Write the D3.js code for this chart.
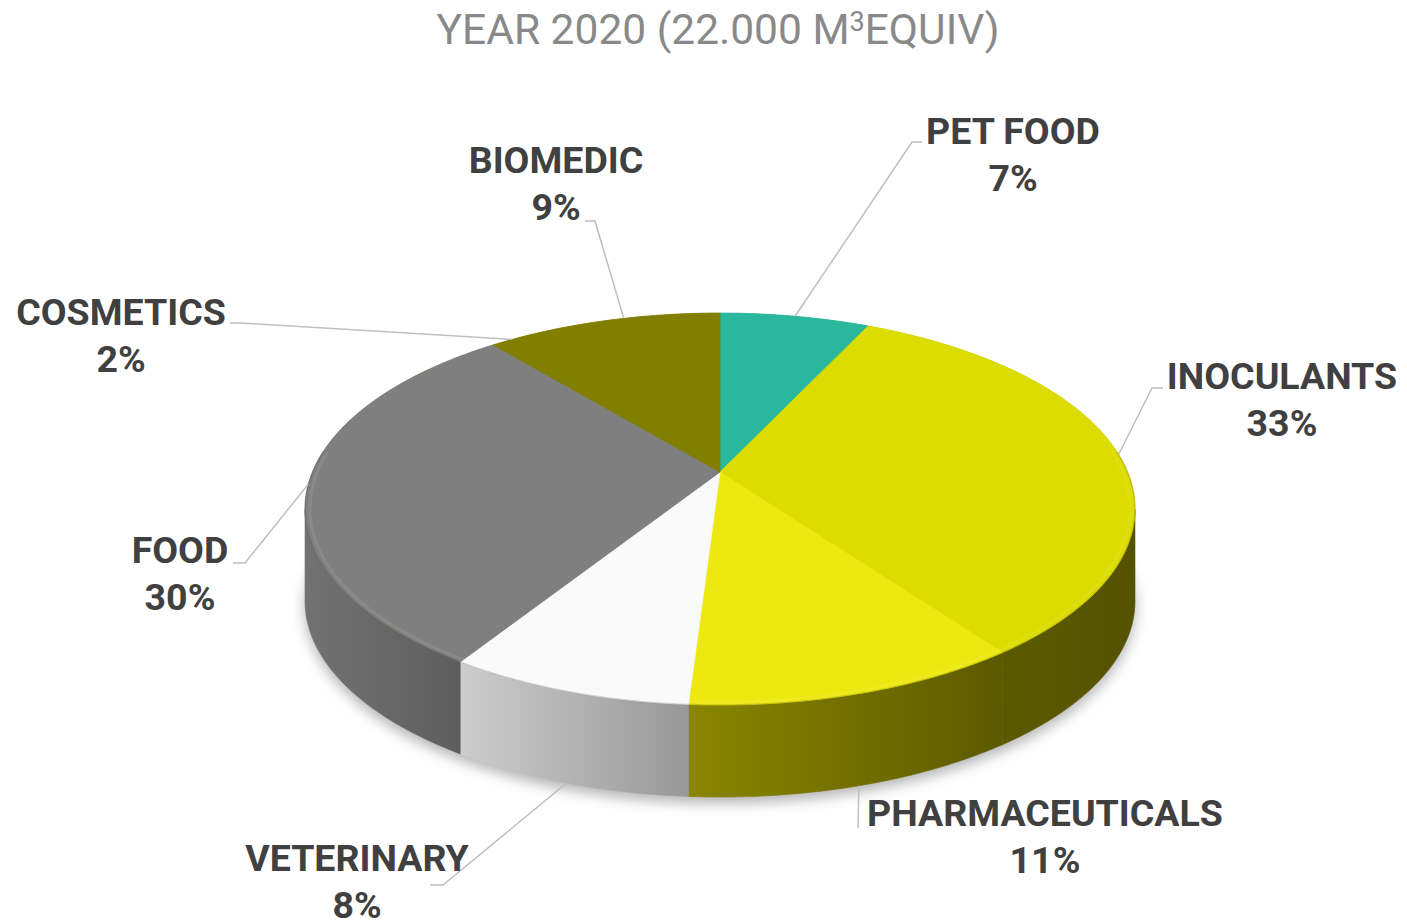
<!DOCTYPE html>
<html>
<head>
<meta charset="utf-8">
<script src="https://cdn.jsdelivr.net/npm/d3@7"></script>
<style>
  body { margin: 0; background: #fff; }
  svg { display: block; }
</style>
</head>
<body>
<div id="chart"></div>
<script>
// datos del grafico
const tituloPartes = ["YEAR 2020 (22.000 M", "3", "EQUIV)"];
const categorias = ["PET FOOD", "INOCULANTS", "PHARMACEUTICALS", "VETERINARY", "FOOD", "COSMETICS", "BIOMEDIC"];
const porcentajes = [7, 33, 11, 8, 30, 2, 9];
const coloresTapa = ["#29b89e", "#dcdc00", "#ede80f", "#fafafa", "#7f7f7f", "#827f00", "#827f00"];
const coloresLado = [
    ["#2a8f7c", "#1f7060"],
    ["#5c5a00", "#545200"],
    ["#8a8600", "#5c5a00"],
    ["#cdcdcd", "#989898"],
    ["#727272", "#5e5e5e"],
    ["#6a6800", "#5a5800"],
    ["#6a6800", "#5a5800"]
];

// posicion de etiquetas (centro x, linea base y, codo de la guia, fin del tramo horizontal)
const etiquetas = [
    { x: 1013, y: 144, codo: [912, 142], fin: 922 },
    { x: 1282, y: 389, codo: [1152, 388], fin: 1163 },
    { x: 1045, y: 826, codo: [858, 828], fin: 858 },
    { x: 357, y: 871, codo: [443, 885], fin: 430 },
    { x: 180, y: 563, codo: [245, 563], fin: 233 },
    { x: 121, y: 325, codo: [240, 323], fin: 230 },
    { x: 556, y: 173, codo: [595, 221], fin: 585 }
];

const svgWidth = 1407, svgHeight = 924;
const cx = 720, cy = 472;      // vertice de la tarta
const kR = 407.5, mR = 189;    // semiejes antes de perspectiva
const q = 0.189;               // perspectiva
const grosor = 92;             // alto del lateral

const svg = d3.select("#chart")
    .append("svg")
    .attr("width", svgWidth)
    .attr("height", svgHeight);

const defs = svg.append("defs");
defs.append("filter")
    .attr("id", "sombra")
    .attr("x", "-20%").attr("y", "-20%")
    .attr("width", "140%").attr("height", "140%")
    .append("feGaussianBlur")
    .attr("stdDeviation", 7);

// escalas de proyeccion
const x = d3.scaleLinear().domain([-1, 1]).range([cx - kR, cx + kR]);
const y = d3.scaleLinear().domain([-1, 1]).range([cy + mR, cy - mR]);

function proyectar(a, z) {
    const X = Math.sin(a), Y = Math.cos(a);
    const w = 1 + q * Y;
    return [x(X / w), y(Y / w) + z];
}

function borde(a0, a1, z) {
    const n = Math.max(2, Math.ceil((a1 - a0) / 0.01));
    return d3.range(n + 1).map(i => proyectar(a0 + (a1 - a0) * i / n, z));
}

const pie = d3.pie().sort(null).value(d => d)(porcentajes);
const linea = d3.line();

// limites del lateral visible
const aDer = Math.acos(-q);
const aIzq = 2 * Math.PI - aDer;

// sombra
svg.append("path")
    .attr("d", linea(borde(0, 2 * Math.PI, grosor + 6)) + "Z")
    .attr("fill", "#000")
    .attr("opacity", 0.3)
    .attr("filter", "url(#sombra)");

// laterales
pie.forEach((s, i) => {
    const a0 = Math.max(s.startAngle, aDer);
    const a1 = Math.min(s.endAngle, aIzq);
    if (a1 <= a0) return;
    const arriba = borde(a0, a1, 0);
    const abajo = borde(a0, a1, grosor).reverse();
    const xs = arriba.map(p => p[0]);
    const gid = "lado" + i;
    const g = defs.append("linearGradient")
        .attr("id", gid)
        .attr("gradientUnits", "userSpaceOnUse")
        .attr("x1", d3.min(xs)).attr("x2", d3.max(xs))
        .attr("y1", 0).attr("y2", 0);
    g.append("stop").attr("offset", 0).attr("stop-color", coloresLado[i][0]);
    g.append("stop").attr("offset", 1).attr("stop-color", coloresLado[i][1]);
    svg.append("path")
        .attr("d", linea(arriba.concat(abajo)) + "Z")
        .attr("fill", `url(#${gid})`)
        .attr("stroke", `url(#${gid})`)
        .attr("stroke-width", 0.6);
});

// tapa (fondo del color de la ultima porcion para tapar costuras)
svg.append("path")
    .attr("d", linea(borde(0, 2 * Math.PI, 0)) + "Z")
    .attr("fill", coloresTapa[coloresTapa.length - 1]);

pie.forEach((s, i) => {
    const pts = [[cx, cy]].concat(borde(s.startAngle, s.endAngle, 0));
    svg.append("path")
        .attr("d", linea(pts) + "Z")
        .attr("fill", coloresTapa[i])
        .attr("stroke", coloresTapa[i])
        .attr("stroke-width", 0.8)
        .attr("stroke-linejoin", "round");
});

// brillo del canto
function bordeInterior(a0, a1, f) {
    return borde(a0, a1, 0).map(p => [cx + (p[0] - cx) * f, cy + (p[1] - cy) * f]);
}
svg.append("path")
    .attr("d", linea(bordeInterior(aDer - 0.3, aIzq + 0.3, 0.988)))
    .attr("fill", "none")
    .attr("stroke", "#fff")
    .attr("stroke-opacity", 0.08)
    .attr("stroke-width", 3);
svg.append("path")
    .attr("d", linea(borde(aDer - 0.3, aIzq + 0.3, 0)))
    .attr("fill", "none")
    .attr("stroke", "#000")
    .attr("stroke-opacity", 0.12)
    .attr("stroke-width", 1.5);

// guias y etiquetas
pie.forEach((s, i) => {
    const m = (s.startAngle + s.endAngle) / 2;
    const delante = m > aDer && m < aIzq;
    const p = proyectar(m, delante ? grosor : 0);
    const e = etiquetas[i];
    svg.append("path")
        .attr("d", linea([p, e.codo, [e.fin, e.codo[1]]]))
        .attr("fill", "none")
        .attr("stroke", "#bfbfbf")
        .attr("stroke-width", 1.5);

    const t = svg.append("text")
        .attr("text-anchor", "middle")
        .attr("font-family", "Roboto")
        .attr("font-weight", "bold")
        .attr("font-size", 37.5)
        .attr("fill", "#404040");
    t.append("tspan").attr("x", e.x).attr("y", e.y).text(categorias[i]);
    t.append("tspan").attr("x", e.x).attr("y", e.y + 47).text(porcentajes[i] + "%");
});

// titulo
const tit = svg.append("text")
    .attr("x", 718)
    .attr("y", 44)
    .attr("text-anchor", "middle")
    .attr("font-family", "Roboto")
    .attr("font-size", 42.5)
    .attr("fill", "#898989");
tit.append("tspan").text(tituloPartes[0]);
tit.append("tspan").attr("dy", -13).attr("font-size", 27).text(tituloPartes[1]);
tit.append("tspan").attr("dy", 13).text(tituloPartes[2]);
</script>
</body>
</html>
